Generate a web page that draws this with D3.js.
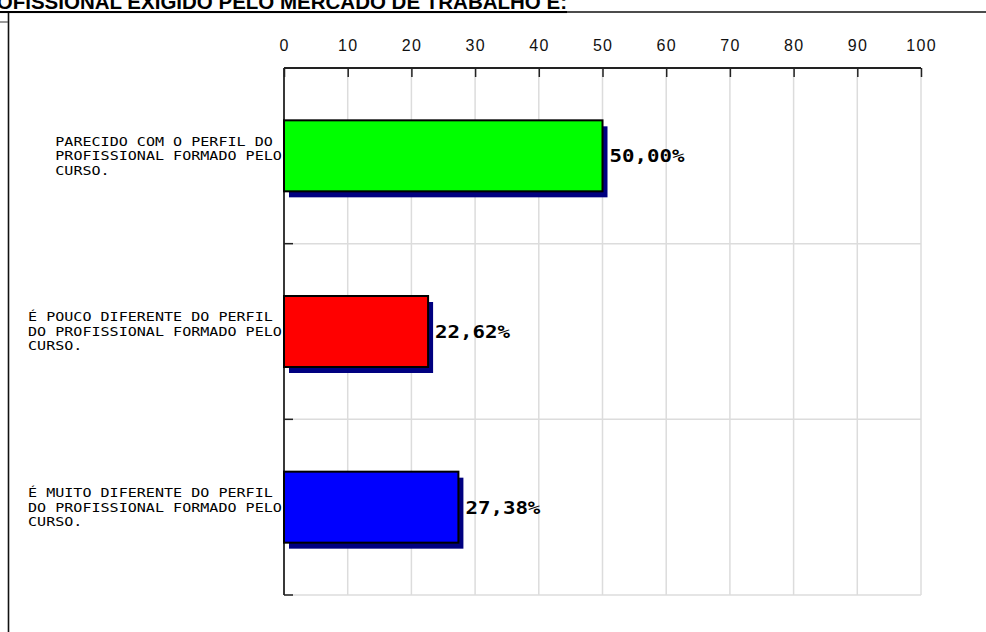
<!DOCTYPE html>
<html><head><meta charset="utf-8">
<script src="https://cdn.jsdelivr.net/npm/d3@7"></script>
<style>html,body{margin:0;padding:0;background:#fff;overflow:hidden}</style>
</head><body>
<script>
const titleText = "PROFISSIONAL EXIGIDO PELO MERCADO DE TRABALHO É:";
const categories = [
  ["PARECIDO COM O PERFIL DO", "PROFISSIONAL FORMADO PELO", "CURSO."],
  ["É POUCO DIFERENTE DO PERFIL", "DO PROFISSIONAL FORMADO PELO", "CURSO."],
  ["É MUITO DIFERENTE DO PERFIL", "DO PROFISSIONAL FORMADO PELO", "CURSO."]
];
const values = [50.00, 22.62, 27.38];
const valueLabels = ["50,00%", "22,62%", "27,38%"];
const barColors = ["#00ff00", "#ff0000", "#0000ff"];
const tickValues = [0,10,20,30,40,50,60,70,80,90,100];

const W = 986, H = 632;
const svg = d3.select("body").append("svg").attr("width", W).attr("height", H);
svg.append("rect").attr("width", W).attr("height", H).attr("fill", "#fff");

// frame
svg.append("line").attr("x1", 8).attr("x2", W).attr("y1", 12).attr("y2", 12).attr("stroke", "#111").attr("stroke-width", 1.6);
svg.append("line").attr("x1", 8.5).attr("x2", 8.5).attr("y1", 12).attr("y2", H).attr("stroke", "#111").attr("stroke-width", 1.6);
svg.append("line").attr("x1", 0).attr("x2", 8).attr("y1", 22).attr("y2", 22).attr("stroke", "#555").attr("stroke-width", 1.2);

// title (cut at top, as in the reference)
svg.append("text").attr("x", 567).attr("y", 9).attr("text-anchor", "end")
  .attr("font-family", "Liberation Sans, Arial, sans-serif").attr("font-weight", "bold")
  .attr("font-size", 20.5).attr("text-decoration", "underline").attr("fill", "#000")
  .text(titleText);

const x = d3.scaleLinear().domain([0, 100]).range([284, 921]);
const y = d3.scaleBand().domain(d3.range(categories.length)).range([68, 595]);
const barH = 71;

// grid
const g = svg.append("g");
g.selectAll(".vg").data(tickValues.slice(1)).join("line")
  .attr("x1", d => x(d)).attr("x2", d => x(d)).attr("y1", 68).attr("y2", 595)
  .attr("stroke", "#dcdcdc").attr("stroke-width", 1.5);
g.selectAll(".hg").data(d3.range(1, categories.length + 1)).join("line")
  .attr("x1", 284).attr("x2", x(100)).attr("y1", d => y(0) + d * y.bandwidth()).attr("y2", d => y(0) + d * y.bandwidth())
  .attr("stroke", "#dcdcdc").attr("stroke-width", 1.5);

// top axis
const axTop = svg.append("g").attr("transform", "translate(0,68)")
  .call(d3.axisTop(x).tickValues(tickValues).tickSize(-9).tickPadding(0).tickFormat(""));
axTop.select(".domain").remove();
axTop.selectAll(".tick line").attr("stroke", "#222").attr("stroke-width", 1.5);
svg.append("line").attr("x1", 284).attr("x2", x(100)).attr("y1", 68).attr("y2", 68).attr("stroke", "#222").attr("stroke-width", 1.8);
svg.selectAll(".ticklab").data(tickValues).join("text")
  .attr("x", d => x(d) + 0.6).attr("y", 51).attr("text-anchor", "middle")
  .attr("font-family", "Liberation Sans, Arial, sans-serif").attr("font-size", 16)
  .attr("letter-spacing", 1.3).attr("fill", "#111")
  .text(d => d);

// left axis
svg.append("line").attr("x1", 284).attr("x2", 284).attr("y1", 68).attr("y2", 595).attr("stroke", "#222").attr("stroke-width", 1.8);
svg.selectAll(".lt").data(d3.range(1, categories.length + 1)).join("line")
  .attr("x1", 284).attr("x2", 293).attr("y1", d => y(0) + d * y.bandwidth()).attr("y2", d => y(0) + d * y.bandwidth())
  .attr("stroke", "#222").attr("stroke-width", 1.5);

// bars
const bars = svg.selectAll(".bar").data(values).join("g");
bars.append("rect")
  .attr("x", x(0) + 5).attr("y", (d, i) => y(i) + (y.bandwidth() - barH) / 2 + 6)
  .attr("width", d => x(d) - x(0)).attr("height", barH).attr("fill", "#000080");
bars.append("rect")
  .attr("x", x(0)).attr("y", (d, i) => y(i) + (y.bandwidth() - barH) / 2)
  .attr("width", d => x(d) - x(0)).attr("height", barH)
  .attr("fill", (d, i) => barColors[i]).attr("stroke", "#000").attr("stroke-width", 2);

// value labels (wide pixel-like monospace: horizontally stretched)
const vScale = 12.5 / (17.5 * 0.602);
svg.selectAll(".vl").data(values).join("text")
  .attr("transform", (d, i) => `translate(${x(d) + 7},${y(i) + y.bandwidth() / 2 + 6.5}) scale(${vScale},1)`)
  .attr("font-family", "DejaVu Sans Mono, monospace").attr("font-weight", "bold")
  .attr("font-size", 17.5).attr("fill", "#000")
  .text((d, i) => valueLabels[i]);

// category labels
const cFont = 12, pitch = 9.07, cScale = pitch / (cFont * 0.602);
categories.forEach((lines, i) => {
  const cy = y(i) + y.bandwidth() / 2;
  const maxLen = d3.max(lines, l => l.length);
  const t = svg.append("text")
    .attr("font-family", "DejaVu Sans Mono, monospace").attr("font-size", cFont)
    .attr("fill", "#000")
    .attr("transform", `translate(${282 - maxLen * pitch},0) scale(${cScale},1)`);
  lines.forEach((ln, j) => {
    t.append("tspan").attr("x", 0).attr("y", cy + (j - 1) * 14.5 + 4.5).text(ln);
  });
});
</script>
</body></html>
